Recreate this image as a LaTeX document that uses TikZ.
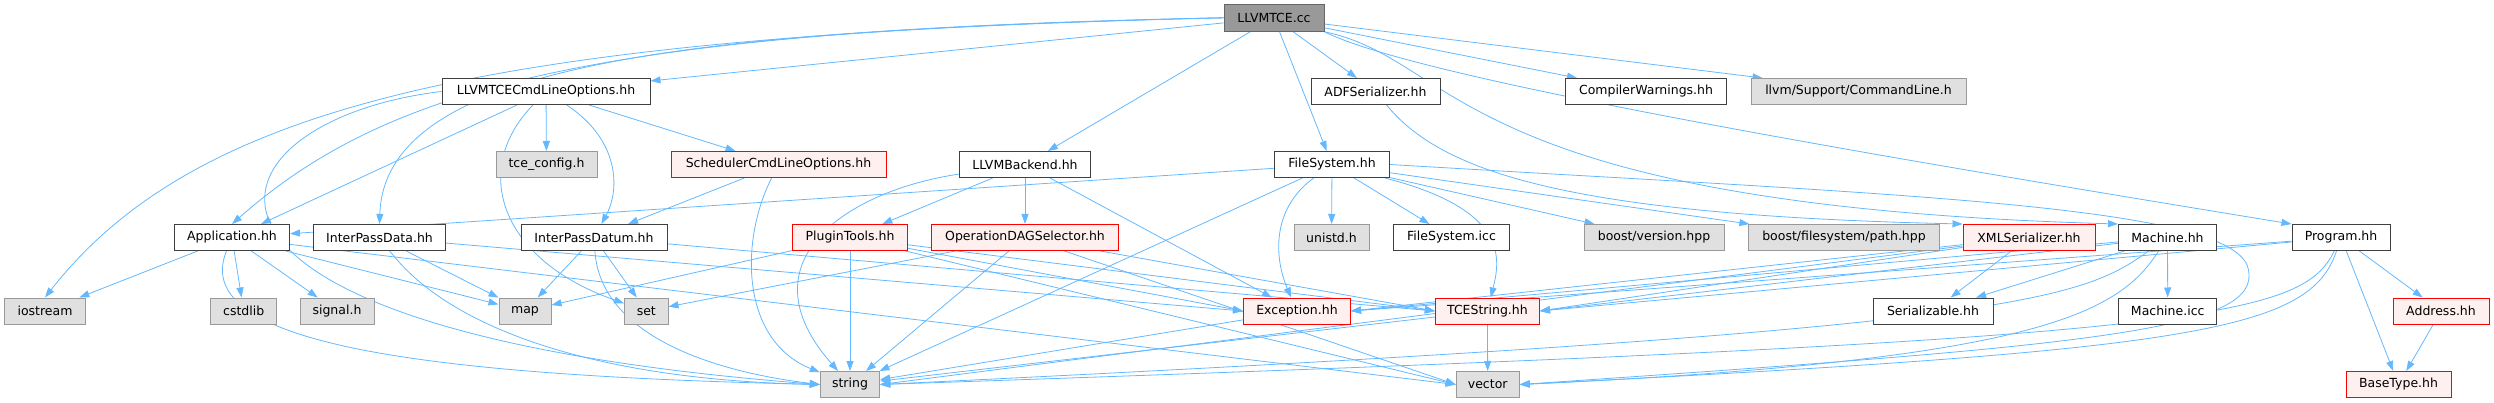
\documentclass[tikz,border=0pt]{standalone}
\usepackage{fontspec}
\setmainfont{DejaVu Sans}
\usetikzlibrary{arrows.meta}
\definecolor{edgeblue}{HTML}{63B8FF}
\definecolor{sysgray}{HTML}{E0E0E0}
\definecolor{sysborder}{HTML}{999999}
\definecolor{cutfill}{HTML}{FFF0F0}
\definecolor{maingray}{HTML}{999999}
\pgfdeclarelayer{edges}
\pgfsetlayers{edges,main}

\begin{document}
\begin{tikzpicture}[x=1pt, y=-1pt,
    every node/.style={font=\fontsize{12.5}{14}\selectfont, inner sep=0pt,
                       minimum height=26pt, line width=1pt},
    incfile/.style={draw=black!75, fill=white},
    sysfile/.style={draw=sysborder, fill=sysgray},
    cutfile/.style={draw=red, fill=cutfill},
    mainfile/.style={draw=black!60, fill=maingray, minimum height=27pt},
    dep/.style={-{Triangle[length=10pt,width=7pt]}, draw=edgeblue, line width=0.8pt}]
  \useasboundingbox (0,0) rectangle (2494,403);

  % top
  \node[mainfile, minimum width=100pt] (cc) at (1274,17.8) {LLVMTCE.cc};

  % row 1
  \node[incfile, minimum width=208pt] (opts) at (546,91.5) {LLVMTCECmdLineOptions.hh};
  \node[incfile, minimum width=129pt] (adfser) at (1375.5,91.5) {ADFSerializer.hh};
  \node[incfile, minimum width=161pt] (compw) at (1646,91.5) {CompilerWarnings.hh};
  \node[sysfile, minimum width=215pt] (cmdline) at (1858.5,91.5) {llvm/Support/CommandLine.h};

  % row 2
  \node[sysfile, minimum width=101pt] (tcecfg) at (546.5,164.5) {tce\_config.h};
  \node[cutfile, minimum width=215pt] (schedopts) at (778.5,164.5) {SchedulerCmdLineOptions.hh};
  \node[incfile, minimum width=131pt] (backend) at (1025,164.5) {LLVMBackend.hh};
  \node[incfile, minimum width=115pt] (fs) at (1332,164.5) {FileSystem.hh};

  % row 3
  \node[incfile, minimum width=115pt] (app) at (232,237.5) {Application.hh};
  \node[incfile, minimum width=132pt] (ipdata) at (379.5,237.5) {InterPassData.hh};
  \node[incfile, minimum width=146pt] (ipdatum) at (594,237.5) {InterPassDatum.hh};
  \node[cutfile, minimum width=115pt] (plugin) at (850,237.5) {PluginTools.hh};
  \node[cutfile, minimum width=187pt] (opdag) at (1025,237.5) {OperationDAGSelector.hh};
  \node[sysfile, minimum width=75pt] (unistd) at (1331.5,237.5) {unistd.h};
  \node[incfile, minimum width=116pt] (fsicc) at (1451.5,237.5) {FileSystem.icc};
  \node[sysfile, minimum width=140pt] (bver) at (1654,237.5) {boost/version.hpp};
  \node[sysfile, minimum width=191pt] (bpath) at (1844,237.5) {boost/filesystem/path.hpp};
  \node[cutfile, minimum width=132pt] (xmlser) at (2029,237.5) {XMLSerializer.hh};
  \node[incfile, minimum width=98pt] (machine) at (2167.5,237.5) {Machine.hh};
  \node[incfile, minimum width=98pt] (program) at (2341,237.5) {Program.hh};

  % row 4
  \node[sysfile, minimum width=81.5pt] (iostream) at (45,311) {iostream};
  \node[sysfile, minimum width=66pt] (cstdlib) at (243.7,311) {cstdlib};
  \node[sysfile, minimum width=74pt] (signalh) at (337,311) {signal.h};
  \node[sysfile, minimum width=52pt] (map) at (525,311) {map};
  \node[sysfile, minimum width=43.4pt] (set) at (646.3,311) {set};
  \node[cutfile, minimum width=107pt] (exc) at (1297,311) {Exception.hh};
  \node[cutfile, minimum width=104pt] (tcestr) at (1487.4,311) {TCEString.hh};
  \node[incfile, minimum width=120pt] (serial) at (1933,311) {Serializable.hh};
  \node[incfile, minimum width=98.5pt] (machicc) at (2167.7,311) {Machine.icc};
  \node[cutfile, minimum width=96pt] (address) at (2441,311) {Address.hh};

  % row 5
  \node[sysfile, minimum width=59.4pt] (string) at (850,384.5) {string};
  \node[sysfile, minimum width=63pt] (vector) at (1487.7,384.5) {vector};
  \node[cutfile, minimum width=105pt] (basetype) at (2398.5,384.5) {BaseType.hh};

  \coordinate (fsbend) at (2248,268);

  \begin{pgfonlayer}{edges}
  % LLVMTCE.cc
  \draw[dep] (cc.west) .. controls (500,35) and (200,100) .. (iostream.north);
  \draw[dep] (cc.west) .. controls (600,30) and (390,85) .. (app.north);
  \draw[dep] (cc.west) .. controls (700,30) and (385,60) .. (ipdata.north);
  \draw[dep] (cc) -- (opts);
  \draw[dep] (cc) -- (backend);
  \draw[dep] (cc) -- (fs);
  \draw[dep] (cc) -- (adfser);
  \draw[dep] (cc) -- ([xshift=12pt]compw.north west);
  \draw[dep] (cc) -- ([xshift=12pt]cmdline.north west);
  \draw[dep] (cc.south east) .. controls (1460,60) and (1450,205) .. (machine.north west);
  \draw[dep] (cc.south east) .. controls (1420,80) and (1900,160) .. (program.north west);

  % LLVMTCECmdLineOptions.hh
  \draw[dep] (opts.west) .. controls (200,120) and (110,330) .. (string.west);
  \draw[dep] (opts) -- (app);
  \draw[dep] (opts) -- (tcecfg);
  \draw[dep] (opts) .. controls (470,170) and (500,260) .. (set);
  \draw[dep] (opts) .. controls (620,140) and (620,190) .. (ipdatum);
  \draw[dep] (opts) -- (schedopts);
  \draw[dep] (schedopts) -- (ipdatum);
  \draw[dep] (schedopts) .. controls (740,240) and (740,340) .. (string);

  % ADFSerializer.hh, LLVMBackend.hh
  \draw[dep] (adfser) .. controls (1440,170) and (1560,215) .. (xmlser.north west);
  \draw[dep] (backend) .. controls (850,190) and (740,260) .. (string);
  \draw[dep] (backend) -- (plugin);
  \draw[dep] (backend) -- (opdag);
  \draw[dep] (backend) -- (exc);

  % FileSystem.hh
  \draw[dep] (fs) -- (app);
  \draw[dep] (fs) -- (string);
  \draw[dep] (fs) .. controls (1270,210) and (1275,260) .. (exc);
  \draw[dep] (fs) -- (unistd);
  \draw[dep] (fs) -- (fsicc);
  \draw[dep] (fs) .. controls (1510,210) and (1500,260) .. (tcestr);
  \draw[dep] (fs) -- (bver);
  \draw[dep] (fs) -- (bpath);
  \draw[dep] (fs.east) .. controls (1900,195) and (2232,205) .. (fsbend)
                       .. controls (2264,330) and (2100,345) .. (vector.east);

  % row 3 headers
  \draw[dep] (app) -- (iostream);
  \draw[dep] (app) -- (cstdlib);
  \draw[dep] (app) -- (signalh);
  \draw[dep] (app) -- (map);
  \draw[dep] (app) .. controls (190,340) and (400,375) .. (string.west);
  \draw[dep] (app) -- (vector.west);
  \draw[dep] (ipdata) -- (map);
  \draw[dep] (ipdata) .. controls (450,330) and (600,380) .. (string.west);
  \draw[dep] (ipdata) -- (exc.west);
  \draw[dep] (ipdatum) -- (map);
  \draw[dep] (ipdatum) -- (set);
  \draw[dep] (ipdatum) .. controls (600,330) and (700,370) .. (string.west);
  \draw[dep] (ipdatum) -- (tcestr.west);
  \draw[dep] (plugin) -- (map);
  \draw[dep] (plugin) -- (string);
  \draw[dep] (plugin) -- (exc.west);
  \draw[dep] (plugin) -- (vector.west);
  \draw[dep] (plugin) -- (tcestr.west);
  \draw[dep] (opdag) -- (set);
  \draw[dep] (opdag) -- (string);
  \draw[dep] (opdag) -- (vector.west);
  \draw[dep] (opdag) -- (tcestr.west);
  \draw[dep] (xmlser) -- (serial);
  \draw[dep] (xmlser) -- (exc.east);
  \draw[dep] (xmlser) -- (tcestr.east);
  \draw[dep] (xmlser) -- (string.east);
  \draw[dep] (machine) -- (serial);
  \draw[dep] (machine) -- (machicc);
  \draw[dep] (machine) -- (exc.east);
  \draw[dep] (machine) -- (tcestr.east);
  \draw[dep] (machine) .. controls (2080,300) and (2020,330) .. (string.east);
  \draw[dep] (machine) .. controls (2120,310) and (2050,360) .. (vector.east);
  \draw[dep] (program) -- (address);
  \draw[dep] (program) -- (basetype);
  \draw[dep] (program) -- (exc.east);
  \draw[dep] (program) -- (tcestr.east);
  \draw[dep] (program) .. controls (2300,320) and (2200,340) .. (string.east);
  \draw[dep] (program) .. controls (2310,330) and (2200,350) .. (vector.east);
  \draw[dep] (address) -- (basetype);

  % row 4 headers
  \draw[dep] (exc) -- (string);
  \draw[dep] (tcestr) -- (string);
  \draw[dep] (tcestr) -- (vector);
  \end{pgfonlayer}
\end{tikzpicture}
\end{document}
